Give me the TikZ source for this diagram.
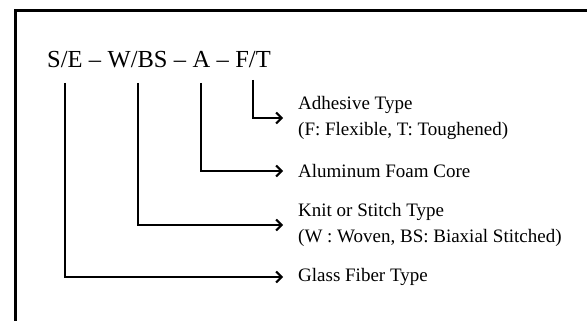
\documentclass[tikz,border=0pt]{standalone}
\usepackage{fontspec}
\setmainfont{Liberation Serif}
\usetikzlibrary{positioning, arrows.meta}

\begin{document}
\begin{tikzpicture}[
    x=1pt, y=-1pt,
    code/.style={inner sep=0pt, font=\fontsize{24.5}{29}\selectfont},
    label/.style={anchor=west, inner xsep=15pt, inner ysep=0pt, align=left,
                  font=\fontsize{19}{26}\selectfont},
    lead/.style={line width=2pt, -{Straight Barb[length=5.5pt, width=11pt]}},
    frame/.style={line width=3pt}
]
\useasboundingbox (0,0) rectangle (587,321);

% Rahmen
\draw[frame] (15.5,321) -- (15.5,10.5) -- (587,10.5);

% Bezeichnung
\node[code, anchor=base west] (se) at (47,68) {S/E};
\node[code, base right=6pt of se] (d1) {--};
\node[code, base right=6pt of d1] (wbs) {W/BS};
\node[code, base right=6pt of wbs] (d2) {--};
\node[code, base right=6pt of d2] (a) {A};
\node[code, base right=6pt of a] (d3) {--};
\node[code, base right=6pt of d3] (ft) {F/T};

% Erklaerungen
\node[label] (adhesive) at (283,118) {Adhesive Type\\(F: Flexible, T: Toughened)};
\node[label] (core) at (283,171) {Aluminum Foam Core};
\node[label] (stitch) at (283,225) {Knit or Stitch Type\\(W : Woven, BS: Biaxial Stitched)};
\node[label] (glass) at (283,277) {Glass Fiber Type};

\draw[lead] ([yshift=-12pt]ft.base) |- (adhesive.west);
\draw[lead] ([yshift=-15pt]a.base) |- (core.west);
\draw[lead] ([yshift=-15pt]wbs.base) |- (stitch.west);
\draw[lead] ([yshift=-15pt]se.base) |- (glass.west);

\end{tikzpicture}
\end{document}
